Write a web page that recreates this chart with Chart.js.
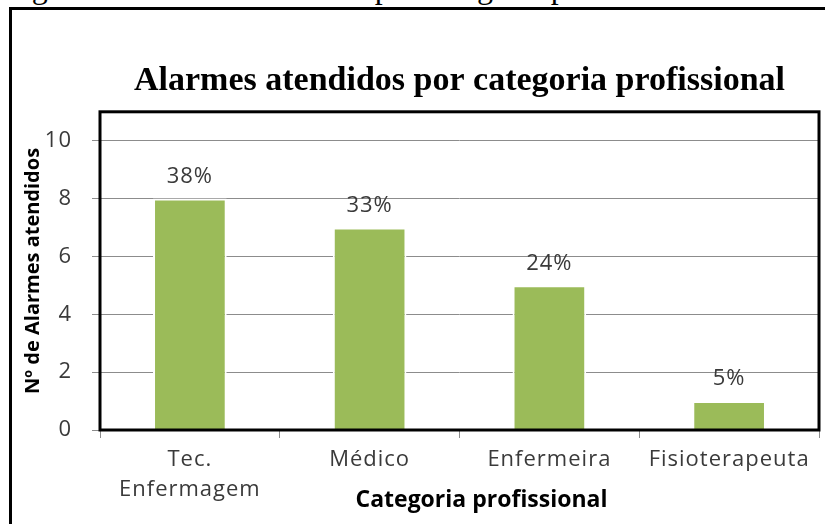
<!DOCTYPE html>
<html lang="pt">
<head>
<meta charset="UTF-8">
<title>Alarmes atendidos por categoria profissional</title>
<script src="https://cdn.jsdelivr.net/npm/chart.js"></script>
<style>
    html, body { margin: 0; padding: 0; background: #fff; width: 825px; height: 524px; overflow: hidden; }
    #caption { position: absolute; left: 5px; top: -29px; font-family: "Liberation Serif", serif; font-size: 32px; line-height: 32px; white-space: nowrap; color: #000; }
    #frame { position: absolute; left: 9px; top: 7px; width: 900px; height: 600px; border: 3px solid #000; }
    #box { position: absolute; left: 12px; top: 10px; width: 813px; height: 514px; }
</style>
</head>
<body>
<div id="caption">Figura 3: Alarmes atendidos por categoria profissional</div>
<div id="frame"></div>
<div id="box"><canvas id="chart"></canvas></div>

<script>
    // data
    const categories = [["Tec.", "Enfermagem"], "Médico", "Enfermeira", "Fisioterapeuta"];
    const alarmes = [8, 7, 5, 1];
    const percentLabels = ["38%", "33%", "24%", "5%"];
    const yTicks = [0, 2, 4, 6, 8, 10];

    const textGrey = "#3a3a3a";
    const gridGrey = "#8c8c8c";
    const wideText = "1px"; // the scanned chart has stretched-out label text

    // percentages above each bar
    const barLabels = {
        id: "barLabels",
        afterDatasetsDraw(chart) {
            const ctx = chart.ctx;
            const meta = chart.getDatasetMeta(0);
            ctx.save();
            ctx.letterSpacing = wideText;
            ctx.font = "22px 'Open Sans'";
            ctx.fillStyle = textGrey;
            ctx.textAlign = "center";
            ctx.textBaseline = "middle";
            meta.data.forEach((bar, i) => {
                ctx.fillText(percentLabels[i], bar.x, bar.y - 22);
            });
            ctx.restore();
        }
    };

    // thick black box round the plot area
    const plotBorder = {
        id: "plotBorder",
        afterDatasetsDraw(chart) {
            const a = chart.chartArea;
            const ctx = chart.ctx;
            ctx.save();
            ctx.strokeStyle = "#000";
            ctx.lineWidth = 3;
            ctx.strokeRect(a.left, a.top, a.right - a.left, a.bottom - a.top);
            ctx.restore();
        }
    };

    // wider tick labels, and the x title sits a bit right of centre
    const axisTweaks = {
        id: "axisTweaks",
        beforeDraw(chart) {
            const ctx = chart.ctx;
            Object.values(chart.scales).forEach(s => {
                if (s._tweaked) return;
                const drawLabels = s.drawLabels.bind(s);
                s.drawLabels = area => {
                    ctx.save();
                    ctx.letterSpacing = wideText;
                    drawLabels(area);
                    ctx.restore();
                };
                if (s.id === "x") {
                    const drawTitle = s.drawTitle.bind(s);
                    s.drawTitle = () => {
                        ctx.save();
                        ctx.translate(22, 0);
                        drawTitle();
                        ctx.restore();
                    };
                }
                s._tweaked = true;
            });
        }
    };

    new Chart(document.getElementById("chart"), {
        type: "bar",
        data: {
            labels: categories,
            datasets: [{
                data: alarmes,
                backgroundColor: "#9bbb59",
                borderColor: "#ffffff",
                borderWidth: 2,
                categoryPercentage: 1,
                barPercentage: 0.41
            }]
        },
        options: {
            responsive: true,
            maintainAspectRatio: false,
            animation: false,
            devicePixelRatio: 1,
            layout: { padding: { top: 0, right: 6, left: 0, bottom: 0 } },
            plugins: {
                legend: { display: false },
                tooltip: { enabled: false },
                title: {
                    display: true,
                    fullSize: false,
                    text: "Alarmes atendidos por categoria profissional",
                    color: "#000",
                    font: { family: "'Liberation Serif'", size: 34, weight: "bold" },
                    padding: { top: 51, bottom: 10 }
                }
            },
            scales: {
                x: {
                    grid: { drawOnChartArea: false, drawTicks: true, tickLength: 8, color: gridGrey },
                    border: { display: false },
                    ticks: { color: textGrey, padding: 7, maxRotation: 0, autoSkip: false, font: { family: "'Open Sans'", size: 22, lineHeight: 1.36 } },
                    title: {
                        display: true,
                        text: "Categoria profissional",
                        color: "#000",
                        font: { family: "'Open Sans'", size: 23, weight: "bold" },
                        padding: { top: 0, bottom: 10 }
                    },
                    afterFit(scale) { scale.height = 94; }
                },
                y: {
                    min: 0,
                    max: 11,
                    grid: { color: gridGrey, tickLength: 8 },
                    border: { display: false },
                    ticks: { color: textGrey, padding: 20, font: { family: "'Open Sans'", size: 22 } },
                    afterBuildTicks(scale) { scale.ticks = yTicks.map(v => ({ value: v })); },
                    title: {
                        display: true,
                        text: "Nº de Alarmes atendidos",
                        color: "#000",
                        font: { family: "'Open Sans'", size: 20, weight: "bold" },
                        padding: { top: 9, bottom: 0 }
                    },
                    afterFit(scale) { scale.width = 88; }
                }
            }
        },
        plugins: [barLabels, plotBorder, axisTweaks]
    });
</script>
</body>
</html>
